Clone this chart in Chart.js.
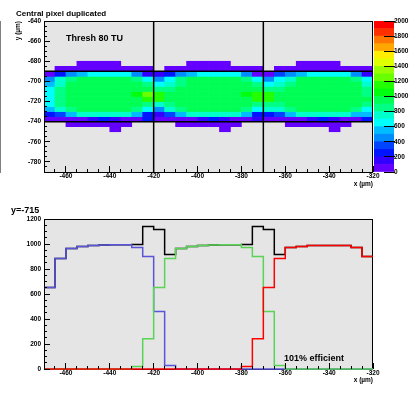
<!DOCTYPE html>
<html>
<head>
<meta charset="utf-8">
<script src="https://cdn.jsdelivr.net/npm/chart.js@4.4.1/dist/chart.umd.min.js"></script>
<style>
  html, body { margin:0; padding:0; background:#ffffff; }
  body { position:relative; width:418px; height:393px; overflow:hidden; }
  canvas { position:absolute; left:0; top:0; }
  .note { position:absolute; font-family:'Liberation Sans', Arial, sans-serif; font-weight:bold; color:#000; white-space:nowrap; line-height:10px; }
</style>
</head>
<body>
<canvas id="heatCanvas" width="418" height="393"></canvas>
<canvas id="paletteCanvas" width="418" height="393"></canvas>
<canvas id="sliceCanvas" width="418" height="393"></canvas>
<div class="note" style="left:16px; top:8.5px; font-size:8px;">Central pixel duplicated</div>
<div class="note" style="left:66px; top:33px; font-size:9px;">Thresh 80 TU</div>
<div class="note" style="left:11px; top:205px; font-size:9px;">y=-715</div>
<div class="note" style="left:284px; top:353px; font-size:9px;">101% efficient</div>
<script>
// ---------------- data ----------------
const binEdges = [-470, -465, -460, -455, -450, -445, -440, -435, -430, -425, -420, -415, -410, -405, -400, -395, -390, -385, -380, -375, -370, -365, -360, -355, -350, -345, -340, -335, -330, -325, -320];
const xRange = [-470, -320];
const yRangeTop = [-790, -640];
const countRange = [0, 1200];
const xTickValues = [-460, -440, -420, -400, -380, -360, -340, -320];
const yTickValuesTop = [-780, -760, -740, -720, -700, -680, -660, -640];
const countTickValues = [0, 200, 400, 600, 800, 1000, 1200];
const paletteTickValues = [0, 200, 400, 600, 800, 1000, 1200, 1400, 1600, 1800, 2000];
const paletteLevels = [0, 100, 200, 300, 400, 500, 600, 700, 800, 900, 1000, 1100, 1200, 1300, 1400, 1500, 1600, 1700, 1800, 1900, 2000];
const paletteColors = ['#6300ff', '#3300ff', '#0014ff', '#0044ff', '#008bff', '#00bbff', '#00fffc', '#00ffcc', '#00ff85', '#00ff55',
                       '#00ff0e', '#22ff00', '#69ff00', '#99ff00', '#e0ff00', '#ffee00', '#ffa700', '#ff7700', '#ff3000', '#ff0000'];

const pixelBoundX = [-420, -370];
const pixelBoundY = [-690, -740];

// 2D map: row edges (y, µm) and cell contents per row (30 x-bins each)
const rowEdges = [-750, -745, -740, -735, -730, -725, -720, -715, -710, -705, -700, -695, -690, -685, -680];
const row_m750 = [0,0,0,0,0,0,40,0,0,0, 0,0,0,0,0,0,40,0,0,0, 0,0,0,0,0,0,40,0,0,0];
const row_m745 = [0,0,40,40,40,40,40,40,0,0, 0,0,40,40,40,40,40,40,0,0, 0,0,40,40,40,40,40,40,0,0];
const row_m740 = [40,40,40,40,150,250,150,40,40,250, 40,40,40,40,150,250,150,40,40,150, 40,40,40,40,150,250,150,40,40,250];
const row_m735 = [250,350,550,750,750,750,750,750,550,250, 150,350,550,750,750,750,750,750,550,250, 250,350,550,750,750,750,750,750,550,550];
const row_m730 = [550,750,850,950,950,950,950,950,850,650, 450,750,850,950,950,950,950,950,850,650, 750,750,850,950,950,950,950,950,850,650];
const row_m725 = [650,850,950,950,950,950,950,950,950,850, 750,850,950,950,950,950,950,950,950,850, 850,850,950,950,950,950,950,950,950,850];
const row_m720 = [653,885,965,981,989,993,995,995,997,1141, 1117,917,965,981,989,993,995,995,997,1141, 1117,917,973,981,989,989,989,989,973,901];
const row_m715 = [650,850,950,950,950,950,950,950,1050,1250, 1150,950,950,950,950,950,950,950,1050,1150, 1150,950,950,950,950,950,950,950,950,850];
const row_m710 = [650,850,950,950,950,950,950,950,950,950, 850,850,950,950,950,950,950,950,950,950, 850,850,950,950,950,950,950,950,950,850];
const row_m705 = [550,750,950,950,950,950,950,950,950,850, 650,750,850,950,950,950,950,950,950,850, 650,750,850,950,950,950,950,950,950,750];
const row_m700 = [450,750,850,950,950,950,950,950,850,650, 450,650,850,950,950,950,950,950,850,650, 450,650,750,950,950,950,950,950,850,650];
const row_m695 = [40,250,450,550,650,650,650,650,450,150, 150,250,450,550,650,650,650,650,450,40, 40,350,450,550,650,650,650,650,450,150];
const row_m690 = [0,40,40,40,40,40,40,40,40,40, 0,40,40,40,40,40,40,40,40,40, 0,40,40,40,40,40,40,40,40,40];
const row_m685 = [0,0,0,40,40,40,40,0,0,0, 0,0,0,40,40,40,40,0,0,0, 0,0,0,40,40,40,40,0,0,0];
const heatRows = [row_m750, row_m745, row_m740, row_m735, row_m730, row_m725, row_m720, row_m715, row_m710, row_m705, row_m700, row_m695, row_m690, row_m685];

// projection at y = -715 (30 x-bins)
const blueCounts  = [653, 885, 965, 981, 989, 993, 995, 995, 973, 901, 461, 29, 0, 0, 0, 0, 0, 0, 0, 0, 0, 0, 0, 0, 0, 0, 0, 0, 0, 0];
const greenCounts = [0, 0, 0, 0, 0, 0, 0, 0, 21, 243, 653, 885, 965, 981, 989, 993, 995, 995, 973, 901, 461, 29, 0, 0, 0, 0, 0, 0, 0, 0];
const redCounts   = [0, 0, 0, 0, 0, 0, 0, 0, 0, 0, 0, 0, 0, 0, 0, 0, 0, 0, 21, 243, 653, 885, 973, 981, 989, 989, 989, 989, 973, 901];
const totalCounts = [653, 885, 965, 981, 989, 993, 995, 995, 997, 1141, 1117, 917, 965, 981, 989, 993, 995, 995, 997, 1141, 1117, 917, 973, 981, 989, 989, 989, 989, 973, 901];

// ---------------- styling / helpers ----------------
const FONT = "'Liberation Sans', Arial, sans-serif";
const tickFont = { family: FONT, size: 6.5, weight: 'bold' };
const plainLabel = v => String(v);

function paletteColor(v) {
  for (let i = paletteLevels.length - 2; i >= 0; i--) {
    if (v >= paletteLevels[i]) return paletteColors[i];
  }
  return paletteColors[0];
}

const framePlugin = {
  id: 'rootFrame',
  beforeDraw(chart, args, opts) {
    if (!opts.fill) return;
    const a = chart.chartArea, ctx = chart.ctx;
    ctx.save();
    ctx.fillStyle = opts.fill;
    ctx.fillRect(a.left, a.top, a.right - a.left, a.bottom - a.top);
    ctx.restore();
  },
  beforeDatasetsDraw(chart, args, opts) {
    if (opts.stroke && !opts.onTop) strokeFrame(chart, opts.stroke);
  },
  afterDatasetsDraw(chart, args, opts) {
    if (opts.stroke && opts.onTop) strokeFrame(chart, opts.stroke);
  }
};
function strokeFrame(chart, color) {
  const a = chart.chartArea, ctx = chart.ctx;
  ctx.save();
  ctx.strokeStyle = color;
  ctx.lineWidth = 1;
  ctx.strokeRect(Math.round(a.left) + 0.5, Math.round(a.top) + 0.5,
                 Math.round(a.right - a.left) - 1, Math.round(a.bottom - a.top));
  ctx.restore();
}
Chart.register(framePlugin);

function fixedTicks(values) {
  return scale => { scale.ticks = values.map(v => ({ value: v })); };
}
function majorAxis(pos, range, values, size, pad, titleText, isX) {
  return {
    type: 'linear', position: pos, min: range[0], max: range[1], offset: false, weight: 0,
    afterBuildTicks: fixedTicks(values),
    afterFit: s => { if (isX) s.height = size; else s.width = size; },
    grid: { display: true, drawOnChartArea: false, drawTicks: true, tickLength: -6, tickColor: '#000', tickWidth: 1, z: 1, offset: false },
    border: { display: false },
    ticks: { padding: pad, color: '#000', font: tickFont, autoSkip: false, maxRotation: 0, callback: plainLabel },
    title: { display: !!titleText, text: titleText || '', align: 'end', color: '#000', font: tickFont, padding: 0 }
  };
}
function minorAxis(pos, range, step, isX) {
  return {
    type: 'linear', position: pos, min: range[0], max: range[1], offset: false, weight: -1,
    afterFit: s => { if (isX) s.height = 0; else s.width = 0; },
    grid: { display: true, drawOnChartArea: false, drawTicks: true, tickLength: -3, tickColor: '#000', tickWidth: 1, z: 1, offset: false },
    border: { display: false },
    ticks: { display: false, stepSize: step, autoSkip: false }
  };
}

// ---------------- top: 2D map ----------------
const heatCells = [];
heatRows.forEach((row, r) => {
  row.forEach((v, c) => {
    if (v > 0) heatCells.push({ x: (binEdges[c] + binEdges[c + 1]) / 2, y: [rowEdges[r], rowEdges[r + 1]], v: v });
  });
});
const boundaryLines = [];
pixelBoundX.forEach(x => boundaryLines.push({
  type: 'line', data: [{ x: x, y: yRangeTop[1] }, { x: x, y: yRangeTop[0] }],
  borderColor: '#000', borderWidth: 1.5, pointRadius: 0, order: 0
}));
pixelBoundY.forEach(y => boundaryLines.push({
  type: 'line', data: [{ x: xRange[0], y: y }, { x: xRange[1], y: y }],
  borderColor: '#000', borderWidth: 1.5, pointRadius: 0, order: 0
}));

new Chart(document.getElementById('heatCanvas'), {
  type: 'bar',
  data: {
    datasets: [{
      type: 'bar', data: heatCells,
      backgroundColor: ctx => paletteColor(ctx.raw ? ctx.raw.v : 0),
      borderWidth: 0, categoryPercentage: 1, barPercentage: 1, grouped: false, order: 2
    }].concat(boundaryLines)
  },
  options: {
    responsive: false, animation: false, devicePixelRatio: 1, events: [],
    layout: { padding: { left: 14, right: 45, top: 21, bottom: 205 } },
    plugins: { legend: { display: false }, tooltip: { enabled: false },
               rootFrame: { fill: '#e5e5e5', stroke: '#000', onTop: true } },
    scales: {
      x: majorAxis('bottom', xRange, xTickValues, 16, 6.3, 'x (µm)', true),
      x2: minorAxis('bottom', xRange, 5, true),
      y: majorAxis('left', yRangeTop, yTickValuesTop, 30, 9, 'y (µm)', false),
      y2: minorAxis('left', yRangeTop, 5, false)
    }
  }
});

// ---------------- colour palette ----------------
new Chart(document.getElementById('paletteCanvas'), {
  type: 'bar',
  data: {
    labels: [''],
    datasets: paletteColors.map((c, i) => ({
      data: [[paletteLevels[i], paletteLevels[i + 1]]], backgroundColor: c,
      borderWidth: 0, grouped: false, categoryPercentage: 1, barPercentage: 1, barThickness: 20
    }))
  },
  options: {
    responsive: false, animation: false, devicePixelRatio: 1, events: [],
    layout: { padding: { left: 374, right: 0, top: 21, bottom: 221 } },
    plugins: { legend: { display: false }, tooltip: { enabled: false }, rootFrame: {} },
    scales: {
      x: { display: false },
      y: {
        position: 'right', min: paletteLevels[0], max: paletteLevels[paletteLevels.length - 1],
        afterBuildTicks: fixedTicks(paletteTickValues),
        afterFit: s => { s.width = 24; },
        grid: { display: true, drawOnChartArea: false, drawTicks: true, tickLength: -10, tickColor: '#000', tickWidth: 1, z: 1 },
        border: { display: true, color: '#000', width: 1 },
        ticks: { padding: 10, color: '#000', font: tickFont, autoSkip: false, callback: plainLabel }
      }
    }
  }
});

// ---------------- bottom: projection ----------------
function stepPoints(vals) {
  return binEdges.map((e, i) => ({ x: e, y: vals[Math.min(i, vals.length - 1)] }));
}
const lineStyle = { stepped: true, pointRadius: 0, borderWidth: 1.5, fill: false, tension: 0, clip: false };
new Chart(document.getElementById('sliceCanvas'), {
  type: 'line',
  data: {
    datasets: [
      Object.assign({ label: 'pixel 3', data: stepPoints(redCounts), borderColor: '#ff0000', order: 0 }, lineStyle),
      Object.assign({ label: 'pixel 2', data: stepPoints(greenCounts), borderColor: '#59d454', order: 1 }, lineStyle),
      Object.assign({ label: 'pixel 1', data: stepPoints(blueCounts), borderColor: '#5954d9', order: 2 }, lineStyle),
      Object.assign({ label: 'sum', data: stepPoints(totalCounts), borderColor: '#000000', order: 3 }, lineStyle)
    ]
  },
  options: {
    responsive: false, animation: false, devicePixelRatio: 1, events: [],
    layout: { padding: { left: 14, right: 45, top: 219, bottom: 9 } },
    plugins: { legend: { display: false }, tooltip: { enabled: false },
               rootFrame: { fill: '#e5e5e5', stroke: '#000', onTop: false } },
    scales: {
      x: majorAxis('bottom', xRange, xTickValues, 15, 6, 'x (µm)', true),
      x2: minorAxis('bottom', xRange, 5, true),
      y: majorAxis('left', countRange, countTickValues, 30, 9, '', false),
      y2: minorAxis('left', countRange, 50, false)
    }
  }
});
</script>
</body>
</html>
